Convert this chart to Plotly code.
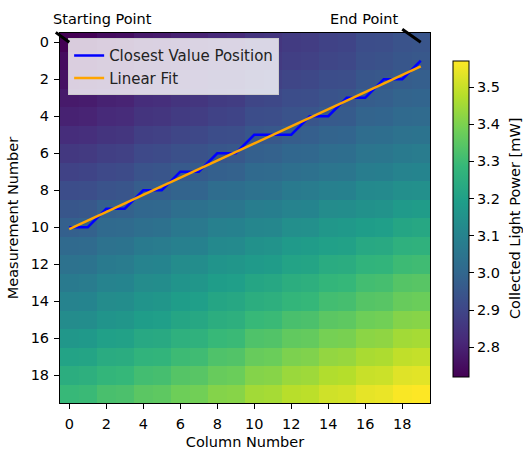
import numpy as np
import plotly.graph_objects as go

columns = list(range(20))
measurements = list(range(20))

power_mw = [
    [2.720,2.725,2.750,2.755,2.780,2.785,2.800,2.805,2.820,2.825,2.850,2.855,2.870,2.875,2.890,2.895,2.920,2.925,2.940,2.945],
    [2.745,2.750,2.770,2.775,2.790,2.795,2.810,2.815,2.840,2.845,2.860,2.865,2.880,2.885,2.900,2.905,2.930,2.935,2.950,2.955],
    [2.760,2.765,2.780,2.785,2.810,2.815,2.830,2.835,2.850,2.855,2.880,2.885,2.900,2.905,2.920,2.925,2.950,2.955,2.970,2.975],
    [2.780,2.785,2.800,2.805,2.830,2.835,2.850,2.855,2.870,2.875,2.900,2.905,2.920,2.925,2.940,2.945,2.970,2.975,2.990,2.995],
    [2.800,2.805,2.820,2.825,2.850,2.855,2.870,2.875,2.890,2.895,2.920,2.925,2.940,2.945,2.960,2.965,2.990,2.995,3.010,3.015],
    [2.830,2.835,2.850,2.855,2.880,2.885,2.900,2.905,2.920,2.925,2.950,2.955,2.970,2.975,2.990,2.995,3.020,3.025,3.040,3.045],
    [2.860,2.865,2.880,2.885,2.910,2.915,2.930,2.935,2.950,2.955,2.980,2.985,3.000,3.005,3.020,3.025,3.050,3.055,3.070,3.075],
    [2.890,2.895,2.910,2.915,2.940,2.945,2.960,2.965,2.980,2.985,3.010,3.015,3.030,3.035,3.050,3.055,3.080,3.085,3.100,3.105],
    [2.920,2.925,2.940,2.945,2.970,2.975,2.990,2.995,3.020,3.025,3.040,3.045,3.070,3.075,3.090,3.095,3.120,3.125,3.140,3.145],
    [2.950,2.955,2.980,2.985,3.000,3.005,3.030,3.035,3.050,3.055,3.080,3.085,3.100,3.105,3.130,3.135,3.150,3.155,3.180,3.185],
    [2.980,2.985,3.010,3.015,3.030,3.035,3.060,3.065,3.090,3.095,3.110,3.115,3.140,3.145,3.170,3.175,3.190,3.195,3.220,3.225],
    [3.010,3.015,3.040,3.045,3.070,3.075,3.090,3.095,3.120,3.125,3.150,3.155,3.180,3.185,3.200,3.205,3.230,3.235,3.260,3.265],
    [3.040,3.045,3.070,3.075,3.100,3.105,3.130,3.135,3.160,3.165,3.180,3.185,3.210,3.215,3.240,3.245,3.270,3.275,3.300,3.305],
    [3.070,3.075,3.100,3.105,3.130,3.135,3.160,3.165,3.190,3.195,3.220,3.225,3.250,3.255,3.280,3.285,3.310,3.315,3.340,3.345],
    [3.100,3.105,3.130,3.135,3.160,3.165,3.190,3.195,3.220,3.225,3.250,3.255,3.280,3.285,3.310,3.315,3.340,3.345,3.370,3.375],
    [3.130,3.135,3.160,3.165,3.190,3.195,3.220,3.225,3.250,3.255,3.290,3.295,3.320,3.325,3.350,3.355,3.380,3.385,3.410,3.415],
    [3.170,3.175,3.200,3.205,3.230,3.235,3.260,3.265,3.290,3.295,3.330,3.335,3.360,3.365,3.390,3.395,3.420,3.425,3.450,3.455],
    [3.210,3.215,3.240,3.245,3.270,3.275,3.300,3.305,3.330,3.335,3.370,3.375,3.400,3.405,3.430,3.435,3.460,3.465,3.490,3.495],
    [3.250,3.255,3.280,3.285,3.310,3.315,3.340,3.345,3.370,3.375,3.410,3.415,3.440,3.445,3.470,3.475,3.500,3.505,3.530,3.535],
    [3.290,3.295,3.320,3.325,3.350,3.355,3.380,3.385,3.410,3.415,3.450,3.455,3.480,3.485,3.510,3.515,3.540,3.545,3.565,3.570],
]

closest_cols = list(range(20))
closest_rows = [10, 10, 9, 9, 8, 8, 7, 7, 6, 6, 5, 5, 5, 4, 4, 3, 3, 2, 2, 1]

x_ticks = [0, 2, 4, 6, 8, 10, 12, 14, 16, 18]
y_ticks = [0, 2, 4, 6, 8, 10, 12, 14, 16, 18]
cbar_ticks = [2.8, 2.9, 3.0, 3.1, 3.2, 3.3, 3.4, 3.5]

slope, intercept = np.polyfit(closest_cols, closest_rows, 1)
fit_rows = slope * np.array(closest_cols, dtype=float) + intercept

FONT = "DejaVu Sans"
FS = 14.5

fig = go.Figure()
fig.add_trace(go.Heatmap(
    z=power_mw, x=columns, y=measurements, colorscale="Viridis",
    showlegend=False, hoverinfo="skip",
    colorbar=dict(
        thickness=16, thicknessmode="pixels",
        len=316 / 370, lenmode="fraction",
        x=(453 - 60) / 370, xanchor="left", xpad=0,
        y=1 - (219 - 33) / 370, yanchor="middle", ypad=0,
        outlinecolor="black", outlinewidth=1,
        ticks="outside", ticklen=5, tickcolor="black",
        tickvals=cbar_ticks, ticktext=[f"{v:.1f}" for v in cbar_ticks],
        tickfont=dict(size=FS, family=FONT, color="black"),
    ),
))
fig.add_trace(go.Scatter(
    x=closest_cols, y=closest_rows, mode="lines",
    line=dict(color="#0000ff", width=2.5), name="Closest Value Position",
))
fig.add_trace(go.Scatter(
    x=closest_cols, y=fit_rows, mode="lines",
    line=dict(color="#ffa500", width=2.5), name="Linear Fit",
))

axis_common = dict(
    ticks="outside", ticklen=5, tickcolor="black", tickwidth=1,
    showline=True, mirror=True, linecolor="black", linewidth=1,
    showgrid=False, zeroline=False,
    tickfont=dict(size=FS, family=FONT, color="black"),
)
fig.update_xaxes(range=[-0.5, 19.5], tickvals=x_ticks, ticklabelstandoff=3,
                 title=dict(text="Column Number", standoff=8,
                            font=dict(size=FS, family=FONT, color="black")),
                 **axis_common)
fig.update_yaxes(range=[19.5, -0.5], tickvals=y_ticks, ticklabelstandoff=2,
                 title=dict(text="Measurement Number", standoff=8,
                            font=dict(size=FS, family=FONT, color="black")),
                 **axis_common)

# colour bar title
fig.add_annotation(x=(515 - 60) / 370, y=1 - (219 - 33) / 370,
                   xref="paper", yref="paper", xanchor="center",
                   yanchor="middle", textangle=-90, showarrow=False,
                   text="Collected Light Power [mW]",
                   font=dict(size=FS, family=FONT, color="black"))

fig.add_annotation(x=0, y=0, xref="x", yref="y", text="Starting Point",
                   showarrow=False, xshift=33, yshift=23,
                   font=dict(size=FS, family=FONT, color="black"))
fig.add_annotation(x=19, y=0, xref="x", yref="y", text="End Point",
                   showarrow=False, xshift=-57, yshift=23,
                   font=dict(size=FS, family=FONT, color="black"))
fig.add_annotation(x=0, y=0, xref="x", yref="y", text="", showarrow=True,
                   ax=-15, ay=-11, arrowhead=0, arrowwidth=3,
                   arrowcolor="black", standoff=0, startstandoff=0)
fig.add_annotation(x=19, y=0, xref="x", yref="y", text="", showarrow=True,
                   ax=-20, ay=-14, arrowhead=0, arrowwidth=3,
                   arrowcolor="black", standoff=0, startstandoff=0)

fig.update_layout(
    width=523, height=450,
    margin=dict(l=60, r=93, t=33, b=47, autoexpand=False),
    paper_bgcolor="white", plot_bgcolor="white",
    font=dict(family=FONT, size=FS, color="black"),
    legend=dict(x=0.022, y=0.986, xanchor="left", yanchor="top",
                bgcolor="rgba(255,255,255,0.8)", bordercolor="#cccccc",
                borderwidth=1, itemwidth=30,
                font=dict(size=15, family=FONT, color="#222222")),
)

fig.write_html("out.html",
               config={"displayModeBar": False},
               post_script="document.body.style.margin='0';"
                           "document.body.style.overflow='hidden';")
